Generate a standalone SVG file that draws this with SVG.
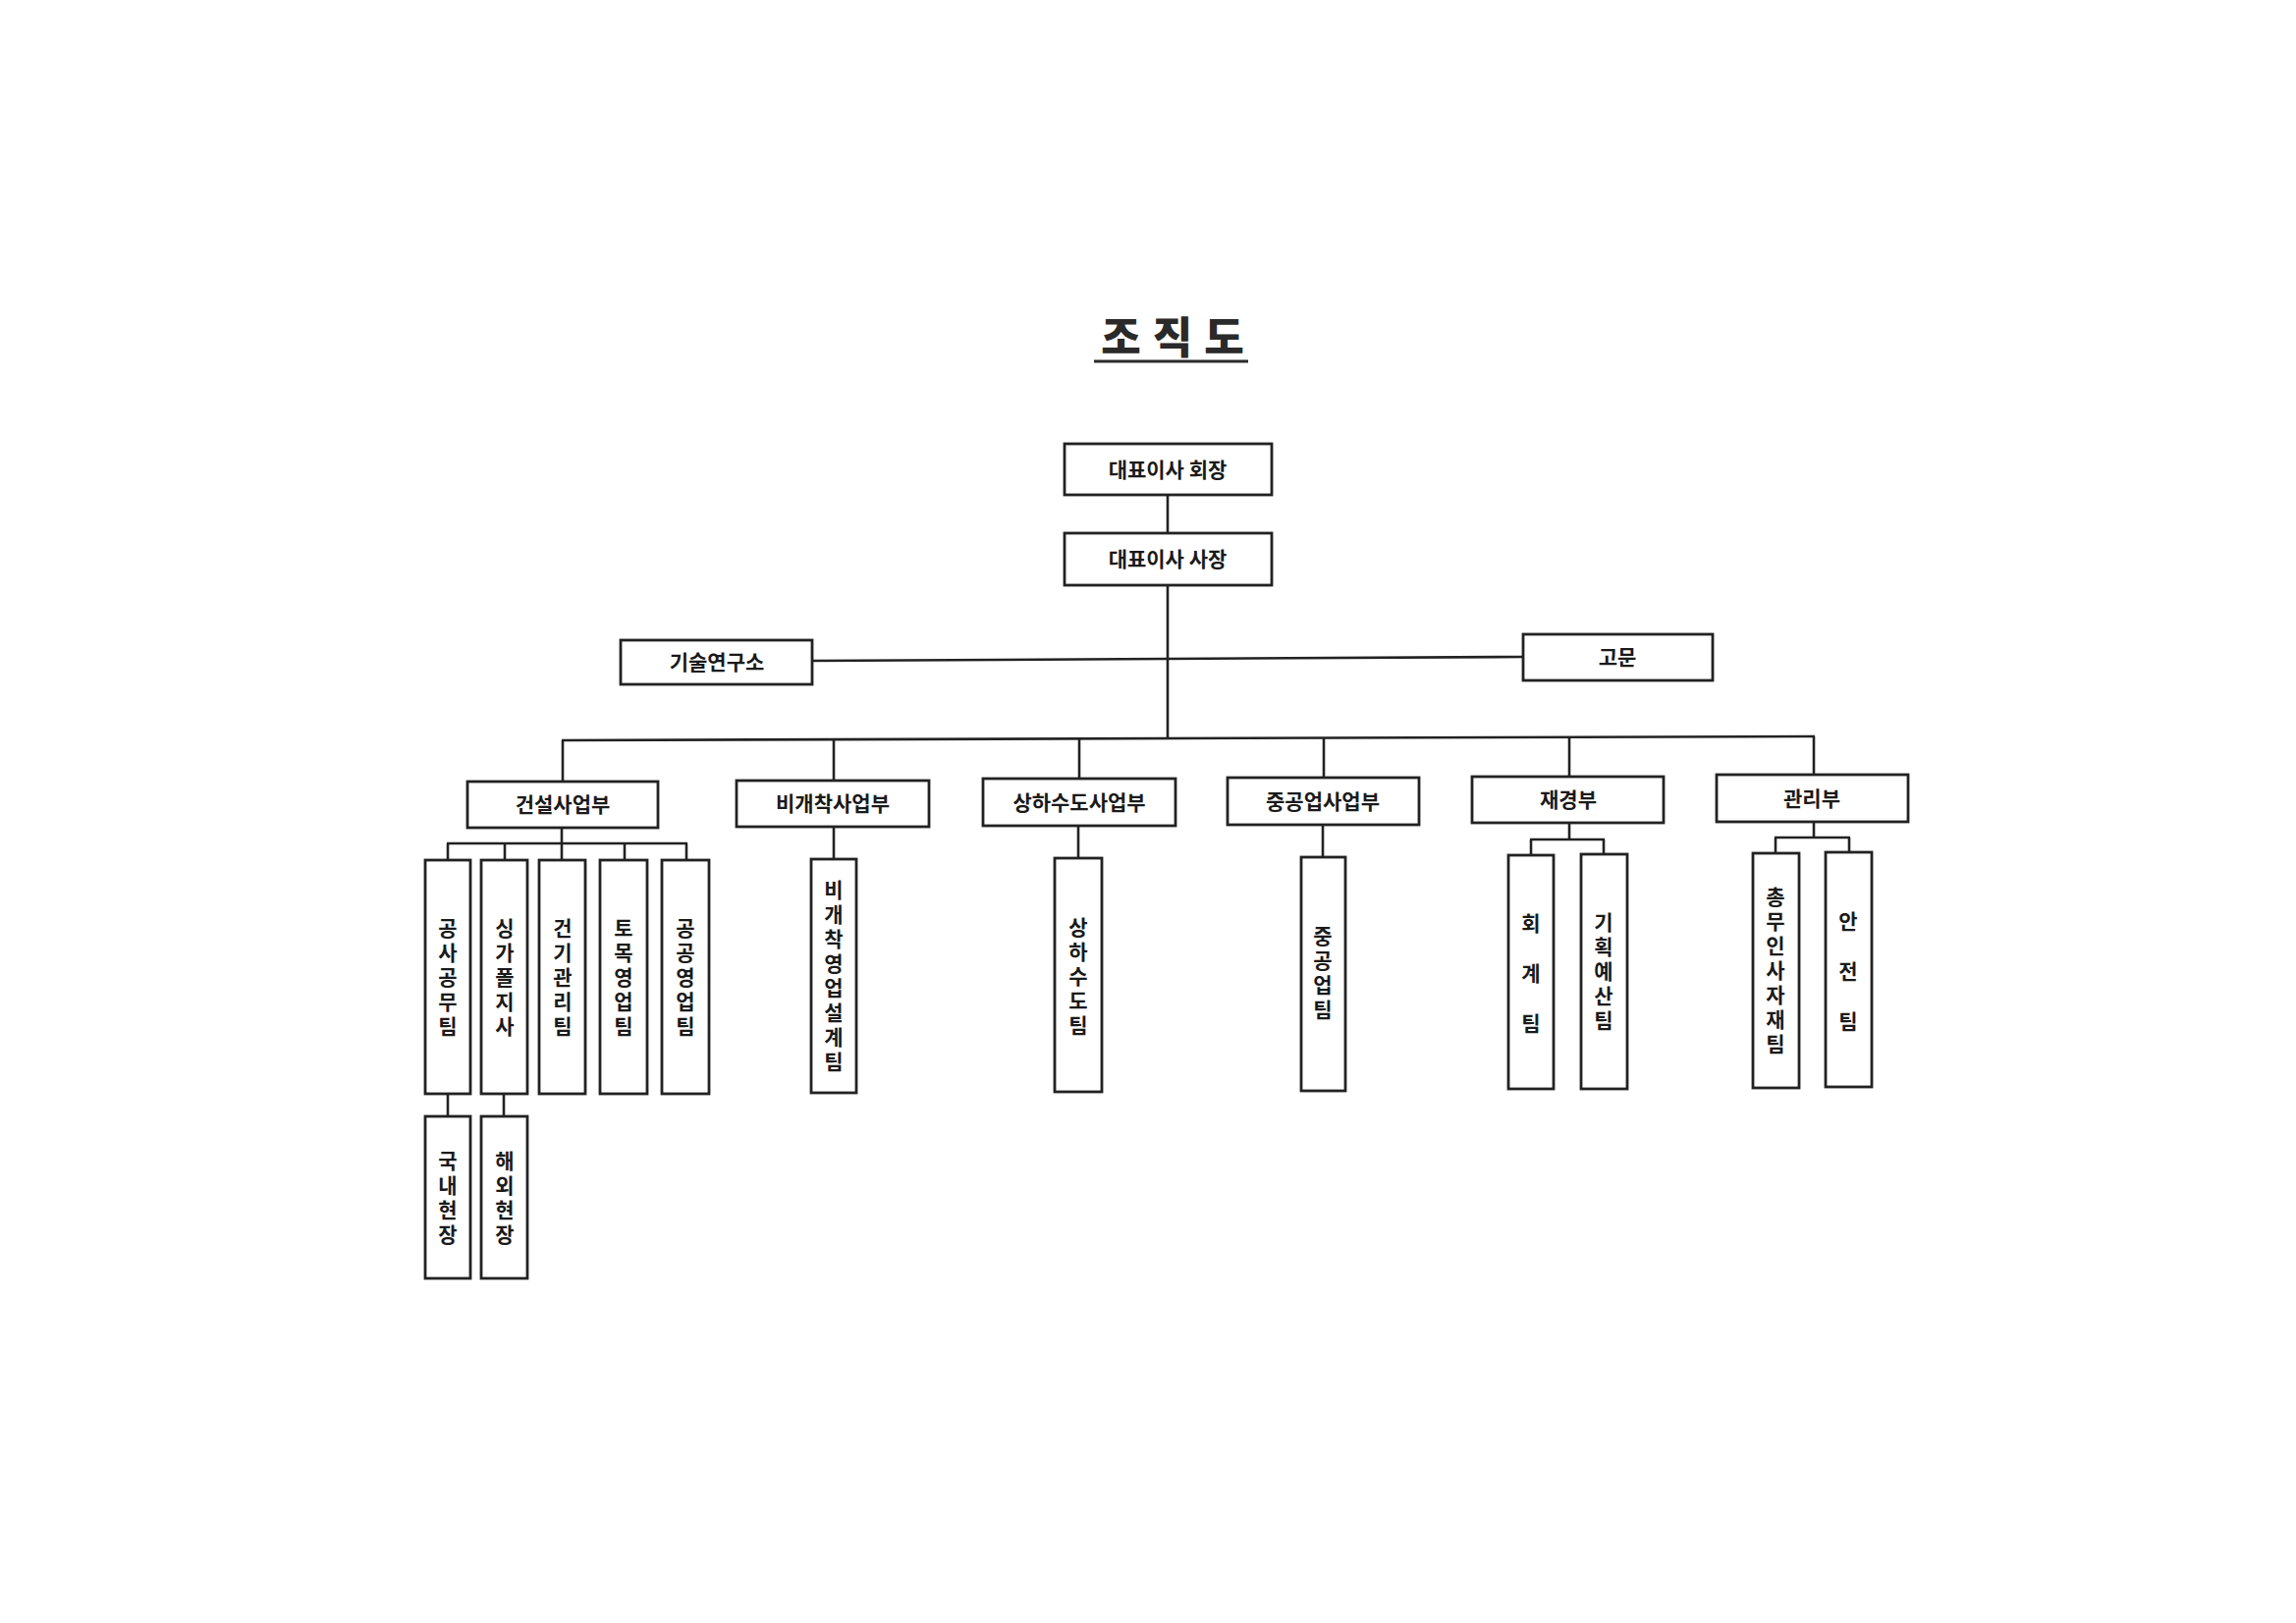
<svg xmlns="http://www.w3.org/2000/svg" width="2338" height="1653" viewBox="0 0 2338 1653">
<style>
.box{fill:#fff;stroke:#222;stroke-width:2.8}
.ln{stroke:#222;stroke-width:2.6;fill:none}
.t{font-family:"Noto Sans CJK KR","Noto Sans",sans-serif;font-weight:700;font-size:21px;fill:#1a1a1a;text-anchor:middle}
.v{writing-mode:vertical-rl;text-orientation:upright;letter-spacing:4px}
.w{letter-spacing:30px}
.title{font-family:"Noto Sans CJK KR","Noto Sans",sans-serif;font-weight:900;font-size:44px;fill:#2a2a2a;text-anchor:middle;letter-spacing:12px}
</style>
<rect width="2338" height="1653" fill="#fff"/>
<g id="title">
<text class="title" x="1200" y="360">조직도</text>
<line x1="1114" y1="368" x2="1271" y2="368" stroke="#2a2a2a" stroke-width="3"/>
</g>
<g id="connectors">
<line class="ln" x1="1189" y1="504" x2="1189" y2="543"/>
<line class="ln" x1="1189" y1="596" x2="1189" y2="752"/>
<line class="ln" x1="827" y1="673" x2="1551" y2="669"/>
<line class="ln" x1="572" y1="754" x2="1848" y2="750"/>
<line class="ln" x1="573" y1="754" x2="573" y2="796"/>
<line class="ln" x1="849" y1="753" x2="849" y2="795"/>
<line class="ln" x1="1099" y1="752" x2="1099" y2="793"/>
<line class="ln" x1="1348" y1="752" x2="1348" y2="792"/>
<line class="ln" x1="1598" y1="751" x2="1598" y2="791"/>
<line class="ln" x1="1847" y1="750" x2="1847" y2="789"/>
<line class="ln" x1="572" y1="843" x2="572" y2="859"/>
<line class="ln" x1="455" y1="859" x2="700" y2="859"/>
<line class="ln" x1="456" y1="859" x2="456" y2="876"/>
<line class="ln" x1="514" y1="859" x2="514" y2="876"/>
<line class="ln" x1="572" y1="859" x2="572" y2="876"/>
<line class="ln" x1="636" y1="859" x2="636" y2="876"/>
<line class="ln" x1="699" y1="859" x2="699" y2="876"/>
<line class="ln" x1="456" y1="1114" x2="456" y2="1137"/>
<line class="ln" x1="513" y1="1114" x2="513" y2="1137"/>
<line class="ln" x1="849" y1="842" x2="849" y2="875"/>
<line class="ln" x1="1098" y1="841" x2="1098" y2="874"/>
<line class="ln" x1="1347" y1="840" x2="1347" y2="873"/>
<line class="ln" x1="1598" y1="838" x2="1598" y2="855"/>
<line class="ln" x1="1558" y1="855" x2="1634" y2="855"/>
<line class="ln" x1="1559" y1="855" x2="1559" y2="871"/>
<line class="ln" x1="1633" y1="855" x2="1633" y2="870"/>
<line class="ln" x1="1847" y1="837" x2="1847" y2="853"/>
<line class="ln" x1="1807" y1="853" x2="1884" y2="853"/>
<line class="ln" x1="1808" y1="853" x2="1808" y2="869"/>
<line class="ln" x1="1883" y1="853" x2="1883" y2="868"/>
</g>
<g id="n-chairman"><rect class="box" x="1084" y="452" width="211" height="52"/><text class="t" x="1189" y="486">대표이사 회장</text></g>
<g id="n-president"><rect class="box" x="1084" y="543" width="211" height="53"/><text class="t" x="1189" y="577">대표이사 사장</text></g>
<g id="n-lab"><rect class="box" x="632" y="652" width="195" height="45"/><text class="t" x="730" y="682">기술연구소</text></g>
<g id="n-advisor"><rect class="box" x="1551" y="646" width="193" height="47"/><text class="t" x="1647" y="677">고문</text></g>

<g id="n-construction"><rect class="box" x="476" y="796" width="194" height="47"/><text class="t" x="573" y="827">건설사업부</text></g>
<g id="n-trenchless"><rect class="box" x="750" y="795" width="196" height="47"/><text class="t" x="848" y="826">비개착사업부</text></g>
<g id="n-water"><rect class="box" x="1001" y="793" width="196" height="48"/><text class="t" x="1099" y="825">상하수도사업부</text></g>
<g id="n-heavy"><rect class="box" x="1250" y="792" width="195" height="48"/><text class="t" x="1347" y="824">중공업사업부</text></g>
<g id="n-finance"><rect class="box" x="1499" y="791" width="195" height="47"/><text class="t" x="1597" y="822">재경부</text></g>
<g id="n-admin"><rect class="box" x="1748" y="789" width="195" height="48"/><text class="t" x="1845" y="821">관리부</text></g>

<g id="n-t1"><rect class="box" x="433" y="876" width="46" height="238"/><text class="t v" x="456" y="997">공사공무팀</text></g>
<g id="n-t2"><rect class="box" x="490" y="876" width="47" height="238"/><text class="t v" x="514" y="997">싱가폴지사</text></g>
<g id="n-t3"><rect class="box" x="549" y="876" width="47" height="238"/><text class="t v" x="573" y="997">건기관리팀</text></g>
<g id="n-t4"><rect class="box" x="611" y="876" width="48" height="238"/><text class="t v" x="635" y="997">토목영업팀</text></g>
<g id="n-t5"><rect class="box" x="674" y="876" width="48" height="238"/><text class="t v" x="698" y="997">공공영업팀</text></g>
<g id="n-site1"><rect class="box" x="433" y="1137" width="46" height="165"/><text class="t v" x="456" y="1222">국내현장</text></g>
<g id="n-site2"><rect class="box" x="490" y="1137" width="47" height="165"/><text class="t v" x="514" y="1222">해외현장</text></g>

<g id="n-t6"><rect class="box" x="826" y="875" width="46" height="238"/><text class="t v" x="849" y="996">비개착영업설계팀</text></g>
<g id="n-t7"><rect class="box" x="1074" y="874" width="48" height="238"/><text class="t v" x="1098" y="996">상하수도팀</text></g>
<g id="n-t8"><rect class="box" x="1325" y="873" width="45" height="238"/><text class="t v" x="1347" y="993">중공업팀</text></g>
<g id="n-t9"><rect class="box" x="1536" y="871" width="46" height="238"/><text class="t v w" x="1559" y="1006">회계팀</text></g>
<g id="n-t10"><rect class="box" x="1610" y="870" width="47" height="239"/><text class="t v" x="1633" y="991">기획예산팀</text></g>
<g id="n-t11"><rect class="box" x="1785" y="869" width="47" height="239"/><text class="t v" x="1808" y="990">총무인사자재팀</text></g>
<g id="n-t12"><rect class="box" x="1859" y="868" width="47" height="239"/><text class="t v w" x="1882" y="1004">안전팀</text></g>
</svg>
